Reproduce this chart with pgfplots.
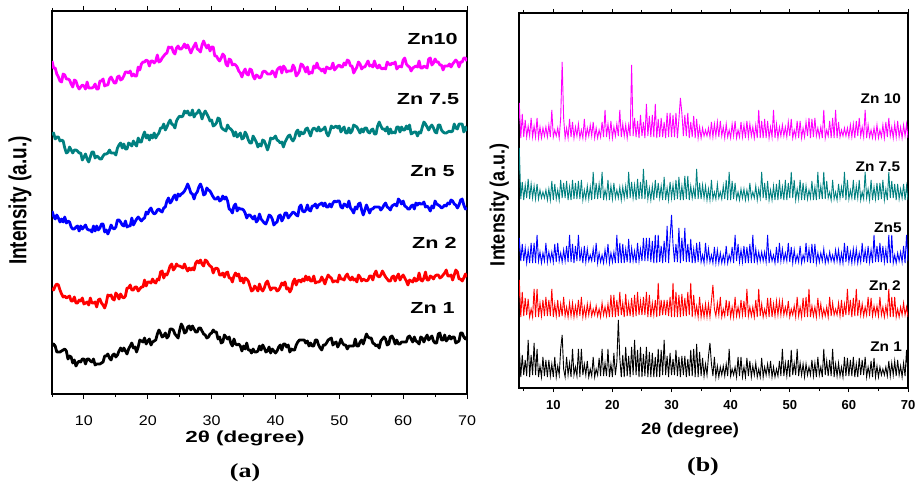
\documentclass[border=0pt]{standalone}
\usepackage{graphicx}
\usepackage{pgfplots}
\pgfplotsset{compat=1.18}
\usepackage{pgfplotstable}
\usepackage{fontspec}
\setmainfont{Liberation Sans}
\newfontfamily\serifbf{Liberation Serif}
\definecolor{cmag}{RGB}{255,0,255}
\definecolor{cteal}{RGB}{0,128,128}
\definecolor{cblue}{RGB}{0,0,255}
\definecolor{cred}{RGB}{255,0,0}

\pgfplotstableread{
x z1 z2 z5 z75 z10
5.00 48 106 183 259 333
5.25 50 104 178 261 326
5.50 48 108 175 255 326
5.75 42 110 179 257 320
6.00 42 109 176 257 317
6.25 42 104 172 253 313
6.50 43 100 175 254 312
6.75 44 97 172 253 320
7.00 45 98 177 246 319
7.25 43 96 171 241 315
7.50 35 97 173 242 315
7.75 38 98 172 247 314
8.00 37 93 167 244 310
8.25 31 93 165 241 307
8.50 34 97 165 244 314
8.75 28 91 167 244 313
9.00 31 91 168 243 308
9.25 33 94 163 241 305
9.50 32 93 168 241 307
9.75 35 96 165 234 309
10.00 35 90 167 237 308
10.25 30 91 169 240 305
10.50 35 92 165 235 312
10.75 35 89 164 232 306
11.00 33 96 164 237 306
11.25 32 91 162 242 306
11.50 35 91 168 242 307
11.75 29 92 163 236 310
12.00 30 87 168 238 305
12.25 30 94 164 237 305
12.50 30 95 166 235 313
12.75 31 91 170 235 313
13.00 32 89 170 238 315
13.25 38 86 162 240 308
13.50 38 91 164 240 309
13.75 40 99 160 241 309
14.00 36 98 164 244 315
14.25 34 99 169 241 317
14.50 39 95 166 241 314
14.75 40 94 165 241 311
15.00 37 101 167 239 311
15.25 39 99 174 246 317
15.50 43 95 174 249 318
15.75 46 100 172 251 314
16.00 43 97 169 246 315
16.25 46 96 168 250 318
16.50 43 98 173 245 322
16.75 40 106 167 245 322
17.00 45 106 168 251 321
17.25 48 109 168 250 323
17.50 51 104 176 248 318
17.75 46 104 169 253 320
18.00 47 107 172 250 318
18.25 42 107 175 248 318
18.50 47 103 177 256 327
18.75 54 105 175 252 324
19.00 53 107 173 252 330
19.25 52 107 175 258 332
19.50 56 114 176 262 332
19.75 50 108 182 256 334
20.00 53 112 180 259 333
20.25 55 112 184 254 328
20.50 49 111 186 259 333
20.75 52 115 182 256 333
21.00 53 112 180 261 331
21.25 54 111 181 256 333
21.50 60 115 184 259 339
21.75 64 114 185 261 332
22.00 61 122 183 266 333
22.25 57 123 182 266 336
22.50 58 116 186 270 338
22.75 61 120 187 264 340
23.00 56 119 193 267 341
23.25 58 123 196 271 347
23.50 65 128 191 274 346
23.75 65 130 193 270 347
24.00 64 124 197 269 342
24.25 60 126 199 266 340
24.50 58 130 194 273 346
24.75 56 128 200 276 348
25.00 64 128 198 278 345
25.25 70 127 200 277 345
25.50 67 126 201 278 347
25.75 61 130 203 283 350
26.00 62 126 206 281 346
26.25 67 123 210 283 349
26.50 68 126 206 279 345
26.75 64 124 201 279 341
27.00 68 126 200 284 345
27.25 65 124 195 277 348
27.50 62 131 200 280 351
27.75 62 133 202 281 345
28.00 66 131 207 284 344
28.25 66 134 210 281 342
28.50 63 130 206 275 349
28.75 60 128 199 280 353
29.00 59 134 200 283 349
29.25 56 133 206 280 346
29.50 57 130 204 277 349
29.75 60 128 203 273 343
30.00 61 127 200 274 347
30.25 64 121 197 268 347
30.50 62 125 195 269 338
30.75 62 126 195 271 338
31.00 55 125 197 276 335
31.25 57 119 193 275 333
31.50 51 119 194 267 336
31.75 52 121 198 265 340
32.00 59 117 195 264 338
32.25 57 121 197 263 330
32.50 55 122 193 269 328
32.75 57 116 185 266 335
33.00 51 116 184 265 334
33.25 48 112 181 263 329
33.50 55 118 188 258 330
33.75 50 121 190 262 329
34.00 49 118 183 257 327
34.25 50 120 186 259 323
34.50 48 113 185 261 321
34.75 43 116 185 255 317
35.00 48 111 184 256 322
35.25 45 116 181 262 325
35.50 51 115 176 259 320
35.75 44 113 179 254 319
36.00 44 108 179 251 325
36.25 41 103 177 251 324
36.50 45 104 175 258 318
36.75 42 108 178 255 315
37.00 42 106 172 252 319
37.25 43 103 174 247 318
37.50 48 110 180 250 316
37.75 44 105 175 248 317
38.00 49 103 173 254 322
38.25 46 106 171 253 323
38.50 42 111 170 249 322
38.75 43 113 174 244 320
39.00 47 108 179 249 320
39.25 41 104 178 256 320
39.50 45 106 175 255 323
39.75 43 106 169 256 321
40.00 41 106 171 258 317
40.25 43 103 172 254 324
40.50 47 104 178 253 326
40.75 49 107 179 251 327
41.00 44 111 173 252 321
41.25 50 109 176 247 328
41.50 50 112 181 252 326
41.75 47 105 181 255 322
42.00 49 106 176 258 323
42.25 42 102 178 259 323
42.50 45 105 180 255 323
42.75 44 112 182 253 329
43.00 44 115 181 256 326
43.25 49 109 179 262 318
43.50 52 113 178 264 320
43.75 54 114 187 258 323
44.00 54 112 189 262 330
44.25 54 115 183 260 329
44.50 54 113 182 261 326
44.75 51 118 184 265 322
45.00 53 114 189 266 327
45.25 48 117 184 262 320
45.50 51 113 183 258 322
45.75 48 113 188 264 321
46.00 48 118 188 266 328
46.25 54 111 190 265 326
46.50 54 112 186 263 331
46.75 49 112 189 267 326
47.00 46 113 190 263 325
47.25 44 117 191 264 323
47.50 49 114 188 265 325
47.75 49 110 191 267 321
48.00 51 115 187 261 327
48.25 54 119 187 258 326
48.50 55 117 190 262 325
48.75 56 116 187 268 326
49.00 49 112 191 266 331
49.25 51 113 193 267 324
49.50 52 113 192 268 326
49.75 47 112 193 266 328
50.00 50 119 193 268 329
50.25 55 115 187 262 327
50.50 51 115 186 265 327
50.75 49 114 190 267 331
51.00 49 118 189 261 329
51.25 45 120 187 261 334
51.50 48 116 193 266 333
51.75 48 114 186 261 328
52.00 48 117 184 263 328
52.25 48 114 181 269 321
52.50 55 115 187 268 324
52.75 48 112 185 267 327
53.00 48 119 190 264 332
53.25 52 117 191 261 330
53.50 54 113 184 265 325
53.75 50 115 179 262 327
54.00 55 114 184 266 327
54.25 60 113 189 266 330
54.50 57 114 185 262 333
54.75 56 118 181 261 328
55.00 56 118 185 264 329
55.25 51 114 185 265 327
55.50 50 120 187 260 333
55.75 48 123 187 260 328
56.00 49 118 187 268 326
56.25 46 117 187 272 329
56.50 53 119 184 268 326
56.75 55 123 186 265 325
57.00 57 120 189 265 326
57.25 55 117 191 263 325
57.50 49 115 187 267 332
57.75 50 113 186 260 330
58.00 57 113 184 265 329
58.25 58 117 188 261 331
58.50 55 118 189 262 330
58.75 50 113 190 261 332
59.00 54 117 188 267 325
59.25 50 120 195 267 327
59.50 50 114 193 262 328
59.75 52 117 190 267 327
60.00 52 119 193 264 334
60.25 52 116 188 264 336
60.50 52 113 187 268 330
60.75 57 109 185 265 328
61.00 58 114 185 269 327
61.25 55 113 188 260 323
61.50 52 112 189 261 326
61.75 57 116 185 262 327
62.00 53 113 191 262 328
62.25 52 114 189 258 327
62.50 50 121 191 262 333
62.75 57 114 190 261 326
63.00 56 113 190 267 326
63.25 52 116 192 272 328
63.50 56 122 187 270 327
63.75 59 114 188 267 326
64.00 54 114 186 264 335
64.25 56 118 183 267 336
64.50 58 117 188 269 329
64.75 53 115 186 266 331
65.00 51 118 193 262 335
65.25 51 119 190 261 332
65.50 60 119 189 269 332
65.75 61 116 188 269 329
66.00 54 117 186 264 329
66.25 54 119 187 262 324
66.50 59 121 189 261 328
66.75 53 124 188 261 328
67.00 55 118 191 262 328
67.25 58 118 190 263 330
67.50 55 119 194 262 327
67.75 57 114 193 263 330
68.00 57 119 190 270 332
68.25 51 124 189 266 334
68.50 52 122 186 265 332
68.75 53 115 189 270 327
69.00 61 115 194 270 332
69.25 61 113 195 270 332
69.50 57 116 189 262 336
69.75 55 120 185 267 336
70.00 57 117 186 263 333
}\tabA

\pgfplotstableread{
x b1 b2 b5 b75 b10
4.00 11 73 125 188 250
4.25 40 108 150 240 285
4.50 11 71 127 189 250
4.75 33 96 144 206 274
5.00 13 72 127 188 251
5.25 28 90 140 203 268
5.50 12 73 125 190 251
5.75 48 89 138 209 262
6.00 11 71 125 189 252
6.25 33 79 145 204 270
6.50 13 71 125 190 251
6.75 45 99 145 202 262
7.00 13 71 125 189 251
7.25 39 99 153 204 270
7.50 11 71 127 189 250
7.75 22 85 136 198 261
8.00 11 72 125 190 250
8.25 31 88 135 196 260
8.50 12 72 127 190 252
8.75 28 91 145 198 261
9.00 11 72 126 188 251
9.25 28 88 136 199 263
9.50 12 72 127 188 251
9.75 24 99 136 207 278
10.00 11 71 126 188 251
10.25 31 84 144 204 258
10.50 11 72 126 189 252
10.75 22 88 145 198 260
11.00 13 71 127 188 250
11.25 39 84 135 208 270
11.50 53 72 126 190 326
11.75 19 91 138 205 270
12.00 11 72 127 190 250
12.25 31 81 142 207 260
12.50 13 71 126 188 250
12.75 25 85 153 201 269
13.00 11 72 126 188 251
13.25 39 85 144 208 266
13.50 13 71 125 189 250
13.75 21 82 142 205 261
14.00 12 72 127 189 252
14.25 39 88 153 207 264
14.50 11 72 127 189 250
14.75 39 91 138 208 258
15.00 13 71 125 188 250
15.25 24 81 142 198 269
15.50 13 71 126 189 250
15.75 27 84 139 202 260
16.00 11 73 127 189 252
16.25 19 84 133 201 263
16.50 12 72 127 188 252
16.75 31 79 139 216 266
17.00 11 73 126 189 250
17.25 19 82 145 205 260
17.50 13 72 125 189 250
17.75 30 79 135 204 258
18.00 12 71 126 190 251
18.25 39 85 133 216 266
18.50 12 73 125 188 251
18.75 25 81 138 198 278
19.00 12 72 127 190 251
19.25 39 84 144 208 264
19.50 11 71 125 188 251
19.75 24 93 135 202 267
20.00 11 71 126 189 250
20.25 35 93 136 205 261
20.50 13 71 125 190 252
20.75 26 88 153 198 264
21.00 68 72 125 190 252
21.25 30 96 145 201 278
21.50 11 73 125 188 251
21.75 33 85 144 201 264
22.00 11 71 125 190 252
22.25 41 94 139 202 263
22.50 12 72 126 189 250
22.75 32 85 149 216 263
23.00 11 72 125 190 252
23.25 41 90 140 206 323
23.50 13 71 127 190 252
23.75 48 93 137 203 270
24.00 13 72 125 188 251
24.25 38 96 145 209 267
24.50 11 73 127 189 250
24.75 41 87 139 206 273
25.00 11 73 127 189 252
25.25 34 91 150 219 266
25.50 12 73 127 189 250
25.75 41 96 150 208 284
26.00 11 71 127 189 252
26.25 36 93 150 200 272
26.50 11 71 126 188 251
26.75 35 85 147 202 273
27.00 11 73 125 188 251
27.25 31 88 153 208 284
27.50 11 71 125 190 250
27.75 39 105 153 205 269
28.00 11 72 126 190 251
28.25 38 88 142 202 270
28.50 13 73 125 188 251
28.75 48 88 147 211 266
29.00 13 73 126 188 250
29.25 32 88 162 200 275
29.50 11 72 125 188 251
29.75 35 91 150 206 275
30.00 13 71 173 190 251
30.25 29 105 144 203 273
30.50 13 71 126 188 251
30.75 38 96 144 208 275
31.00 12 71 126 189 250
31.25 31 93 160 211 269
31.50 11 71 125 188 290
31.75 32 94 150 202 275
32.00 13 72 127 188 252
32.25 32 90 160 212 273
32.50 11 72 126 189 252
32.75 29 96 144 212 275
33.00 12 73 126 188 250
33.25 38 105 149 202 266
33.50 12 71 125 190 251
33.75 39 93 139 200 272
34.00 11 73 125 189 250
34.25 44 82 145 219 269
34.50 11 71 126 189 250
34.75 36 91 146 205 261
35.00 12 71 126 189 250
35.25 30 82 133 203 260
35.50 12 71 125 190 252
35.75 24 84 145 202 258
36.00 13 71 127 188 252
36.25 32 84 139 199 260
36.50 45 71 126 188 251
36.75 24 87 133 208 266
37.00 12 103 125 189 251
37.25 31 79 141 196 264
37.50 11 72 125 189 252
37.75 22 85 138 204 266
38.00 11 73 125 190 251
38.25 21 91 135 196 267
38.50 13 71 125 189 252
38.75 22 79 133 202 261
39.00 12 72 125 189 250
39.25 24 88 142 208 264
39.50 12 72 125 188 251
39.75 39 87 133 216 258
40.00 12 71 127 188 250
40.25 19 81 141 207 264
40.50 13 71 125 189 252
40.75 21 91 153 205 267
41.00 11 72 127 189 250
41.25 31 81 144 196 258
41.50 12 72 126 188 251
41.75 31 88 138 199 266
42.00 11 73 126 190 251
42.25 21 87 142 199 263
42.50 11 71 125 188 250
42.75 30 99 141 198 267
43.00 12 72 125 189 251
43.25 27 81 144 205 264
43.50 11 72 125 190 252
43.75 22 81 153 196 261
44.00 13 71 125 190 250
44.25 25 88 139 202 263
44.50 11 71 126 188 250
44.75 19 99 136 199 278
45.00 11 72 127 190 250
45.25 30 84 136 216 267
45.50 11 71 127 190 250
45.75 21 79 136 205 269
46.00 13 72 126 188 250
46.25 24 90 153 207 267
46.50 13 71 125 188 250
46.75 27 90 136 198 261
47.00 11 71 127 188 251
47.25 21 84 133 202 278
47.50 11 72 125 188 250
47.75 19 87 141 204 264
48.00 12 73 125 188 250
48.25 27 87 145 208 261
48.50 12 73 127 189 252
48.75 39 87 139 201 263
49.00 12 73 127 188 252
49.25 25 81 135 208 261
49.50 12 73 127 188 251
49.75 28 87 145 205 266
50.00 11 71 126 190 252
50.25 38 79 141 216 269
50.50 13 73 125 190 250
50.75 25 82 138 208 258
51.00 13 71 126 188 251
51.25 39 91 133 199 267
51.50 12 72 126 189 250
51.75 25 81 142 208 267
52.00 13 71 125 188 250
52.25 24 90 133 205 260
52.50 11 71 127 188 251
52.75 24 91 145 202 266
53.00 13 71 126 189 252
53.25 21 99 139 198 270
53.50 13 71 125 190 250
53.75 28 82 144 207 269
54.00 12 72 125 188 251
54.25 25 81 144 201 270
54.50 11 71 125 188 252
54.75 31 90 135 216 260
55.00 13 73 126 189 251
55.25 21 84 135 202 261
55.50 11 71 127 189 250
55.75 39 79 139 216 278
56.00 13 72 125 189 250
56.25 27 81 133 207 258
56.50 12 71 126 190 252
56.75 28 91 136 196 267
57.00 12 72 127 188 250
57.25 39 85 133 208 270
57.50 11 73 126 189 250
57.75 24 79 138 196 278
58.00 12 73 127 188 250
58.25 25 85 138 204 266
58.50 12 72 125 190 251
58.75 21 88 135 201 258
59.00 11 71 125 190 252
59.25 31 84 145 216 260
59.50 12 73 126 188 252
59.75 30 99 142 208 260
60.00 12 73 126 189 251
60.25 28 88 136 198 263
60.50 12 71 125 190 251
60.75 31 90 139 208 264
61.00 11 72 126 188 250
61.25 24 99 139 202 267
61.50 11 72 125 190 252
61.75 30 88 135 208 270
62.00 13 73 126 188 252
62.25 28 84 145 196 261
62.50 13 72 126 189 251
62.75 31 81 138 216 278
63.00 11 73 125 190 250
63.25 21 91 142 199 263
63.50 12 72 126 188 251
63.75 27 90 138 208 258
64.00 11 72 125 188 250
64.25 30 82 153 201 260
64.50 11 73 126 189 250
64.75 22 82 142 205 263
65.00 11 72 126 188 250
65.25 21 91 145 205 258
65.50 13 73 126 189 251
65.75 19 81 142 208 263
66.00 13 71 126 188 250
66.25 21 82 139 199 266
66.50 12 73 125 188 251
66.75 27 99 153 216 270
67.00 12 71 125 190 252
67.25 25 91 153 207 261
67.50 13 71 125 190 250
67.75 27 91 133 204 264
68.00 12 71 125 188 251
68.25 28 79 135 204 267
68.50 13 71 127 189 251
68.75 22 81 136 199 261
69.00 11 73 126 190 250
69.25 25 85 142 204 263
69.50 12 73 125 188 252
69.75 38 81 153 202 264
70.00 11 71 127 188 250
}\tabB

\begin{document}
\begin{tikzpicture}[x=1pt,y=1pt]
\path[use as bounding box] (0,0) rectangle (920,485);

% ---------- panel (a) ----------
\begin{axis}[
  at={(52pt,91pt)}, anchor=south west,
  scale only axis, width=415pt, height=383pt,
  xmin=5, xmax=70, ymin=0, ymax=383,
  xtick={10,20,30,40,50,60,70},
  xticklabels={{\scalebox{1.15}[1]{10}},{\scalebox{1.15}[1]{20}},{\scalebox{1.15}[1]{30}},{\scalebox{1.15}[1]{40}},{\scalebox{1.15}[1]{50}},{\scalebox{1.15}[1]{60}},{\scalebox{1.15}[1]{70}}},
  minor xtick={5,15,25,35,45,55,65},
  ytick=\empty,
  tick align=outside, major tick length=5pt, minor tick length=3pt,
  tick style={line width=1pt, black},
  axis line style={line width=1.3pt},
  xticklabel style={font=\fontsize{14}{14}\selectfont, yshift=-13pt},
  xlabel={\scalebox{1.4}[1]{\bfseries\fontsize{16}{16}\selectfont 2θ (degree)}},
  xlabel style={at={(axis description cs:0.465,-0.115)}, anchor=center},
  ylabel={\scalebox{1}[1.3]{\bfseries\fontsize{19}{19}\selectfont Intensity (a.u.)}},
  ylabel style={at={(axis description cs:-0.077,0.505)}, anchor=center},
  clip=true,
]
\addplot[black, line width=2.8pt, line join=round] table[x=x,y=z1]{\tabA};
\addplot[cred, line width=2.8pt, line join=round] table[x=x,y=z2]{\tabA};
\addplot[cblue, line width=2.8pt, line join=round] table[x=x,y=z5]{\tabA};
\addplot[cteal, line width=2.8pt, line join=round] table[x=x,y=z75]{\tabA};
\addplot[cmag, line width=2.8pt, line join=round] table[x=x,y=z10]{\tabA};
\node[font=\bfseries\fontsize{16}{16}\selectfont] at (axis cs:64.6,355) {\scalebox{1.35}[1]{Zn10}};
\node[font=\bfseries\fontsize{16}{16}\selectfont] at (axis cs:63.9,295) {\scalebox{1.35}[1]{Zn 7.5}};
\node[font=\bfseries\fontsize{16}{16}\selectfont] at (axis cs:64.6,223) {\scalebox{1.35}[1]{Zn 5}};
\node[font=\bfseries\fontsize{16}{16}\selectfont] at (axis cs:64.9,151) {\scalebox{1.35}[1]{Zn 2}};
\node[font=\bfseries\fontsize{16}{16}\selectfont] at (axis cs:64.6,86) {\scalebox{1.35}[1]{Zn 1}};
\end{axis}
\node[font=\serifbf\bfseries\fontsize{20}{20}\selectfont] at (245,12) {\scalebox{1.3}[1]{(a)}};

% ---------- panel (b) ----------
\begin{axis}[
  at={(519pt,97pt)}, anchor=south west,
  scale only axis, width=389pt, height=375pt,
  xmin=4.2, xmax=70, ymin=0, ymax=375,
  xtick={10,20,30,40,50,60,70},
  xticklabels={10,20,30,40,50,60,70},
  minor xtick={5,15,25,35,45,55,65},
  ytick=\empty,
  tick align=outside, major tick length=4pt, minor tick length=3pt,
  tick style={line width=1pt, black},
  axis line style={line width=1.3pt},
  xticklabel style={font=\bfseries\fontsize{13}{13}\selectfont, yshift=-5pt},
  xlabel={\scalebox{1.15}[1]{\bfseries\fontsize{16}{16}\selectfont 2θ (degree)}},
  xlabel style={at={(axis description cs:0.44,-0.112)}, anchor=center},
  ylabel={\scalebox{1}[1.15]{\bfseries\fontsize{18}{18}\selectfont Intensity (a.u.)}},
  ylabel style={at={(axis description cs:-0.051,0.488)}, anchor=center},
  clip=true,
]
\addplot[black, line width=0.9pt] table[x=x,y=b1]{\tabB};
\addplot[cred, line width=0.9pt] table[x=x,y=b2]{\tabB};
\addplot[cblue, line width=0.9pt] table[x=x,y=b5]{\tabB};
\addplot[cteal, line width=0.9pt] table[x=x,y=b75]{\tabB};
\addplot[cmag, line width=0.9pt] table[x=x,y=b10]{\tabB};
\node[font=\bfseries\fontsize{14}{14}\selectfont] at (axis cs:65.4,289) {\scalebox{1.1}[1]{Zn 10}};
\node[font=\bfseries\fontsize{14}{14}\selectfont] at (axis cs:64.9,221) {\scalebox{1.1}[1]{Zn 7.5}};
\node[font=\bfseries\fontsize{14}{14}\selectfont] at (axis cs:66.6,160) {\scalebox{1.1}[1]{Zn5}};
\node[font=\bfseries\fontsize{14}{14}\selectfont] at (axis cs:66.1,102) {\scalebox{1.1}[1]{Zn 2}};
\node[font=\bfseries\fontsize{14}{14}\selectfont] at (axis cs:66.3,41) {\scalebox{1.1}[1]{Zn 1}};
\end{axis}
\node[font=\serifbf\bfseries\fontsize{20}{20}\selectfont] at (703,18) {\scalebox{1.3}[1]{(b)}};
\end{tikzpicture}
\end{document}
